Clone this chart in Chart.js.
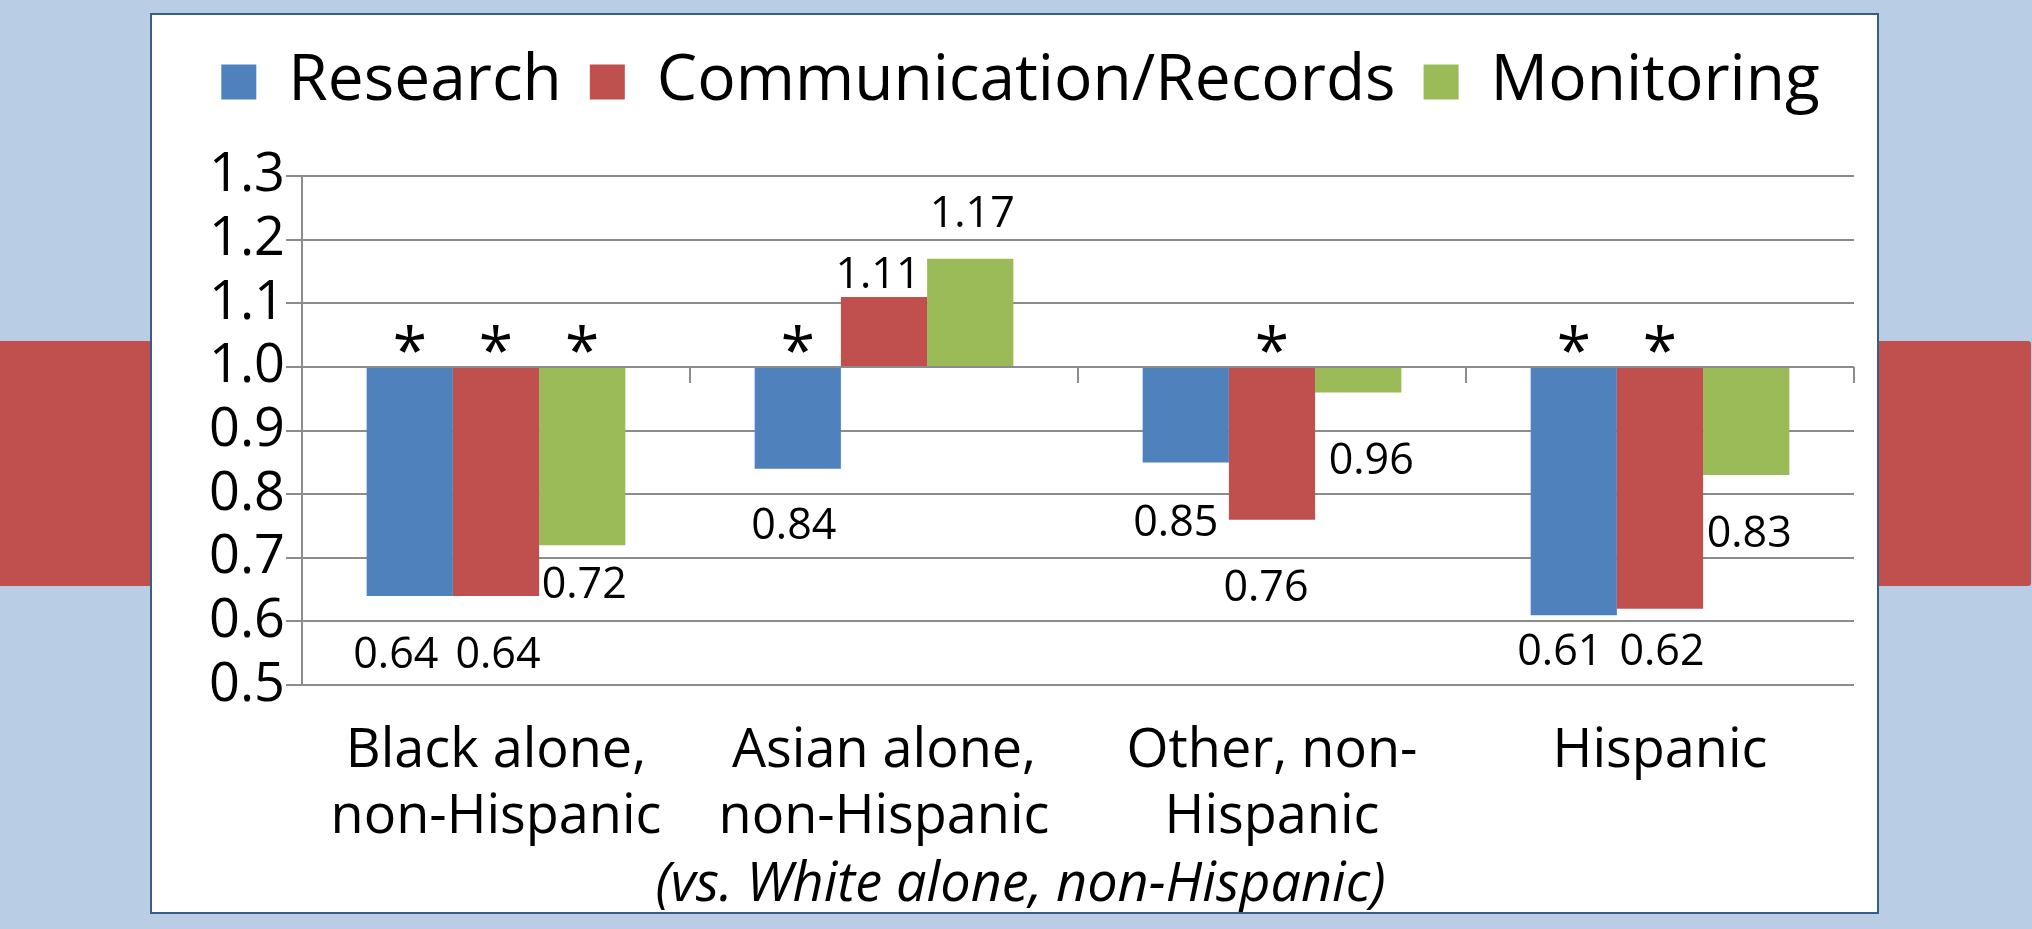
<!DOCTYPE html>
<html>
<head>
<meta charset="utf-8">
<script src="https://cdn.jsdelivr.net/npm/chart.js@4.4.1/dist/chart.umd.min.js"></script>
<style>
  html, body { margin: 0; padding: 0; }
  body { width: 2032px; height: 929px; background: #b9cde5; position: relative; overflow: hidden; }
  .band { position: absolute; top: 341px; height: 245px; background: #c0504d; }
  #bandLeft { left: 0; width: 160px; }
  #bandRight { left: 1870px; width: 161px; border-radius: 0 3px 3px 0; }
  #panel { position: absolute; left: 150px; top: 13px; width: 1725px; height: 897px;
           border: 2px solid #385d8a; background: #fff; }
  canvas { display: block; }
</style>
</head>
<body>
<div class="band" id="bandLeft"></div>
<div class="band" id="bandRight"></div>
<div id="panel"><canvas id="chart" width="1725" height="897"></canvas></div>
<script>
// Odds ratios by group (reference group: White alone, non-Hispanic)
const categories = [
  ['Black alone,', 'non-Hispanic'],
  ['Asian alone,', 'non-Hispanic'],
  ['Other, non-', 'Hispanic'],
  ['Hispanic']
];
const seriesNames = ['Research', 'Communication/Records', 'Monitoring'];
const research      = [0.64, 0.84, 0.85, 0.61];
const communication = [0.64, 1.11, 0.76, 0.62];
const monitoring    = [0.72, 1.17, 0.96, 0.83];

// statistically significant differences, marked with an asterisk
const researchSig      = [true, true, false, true];
const communicationSig = [true, false, true, true];
const monitoringSig    = [true, false, false, false];

const baseline = 1.0;
const yMin = 0.5, yMax = 1.3, yStep = 0.1;
const subtitle = '(vs. White alone, non-Hispanic)';

// value-label placement: centre offset [dx, dy] in px from each bar tip
const researchLabelShift      = [[-14, 56], [-4, 54], [-10, 58], [-14, 34]];
const communicationLabelShift = [[2, 56], [-6, -24], [-6, 65], [2, 40]];
const monitoringLabelShift    = [[2, 37], [2, -47], [13, 66], [3, 56]];

const FONT = "'Open Sans', 'Noto Sans', sans-serif";
const GRID = '#8c8c8c';
const COLORS = ['#4f81bd', '#c0504d', '#9bbb59'];

// leaves room between the legend row and the plot
const legendGap = {
  id: 'legendGap',
  beforeLayout(chart) {
    const lg = chart.legend;
    if (!lg || lg._gapPatched) return;
    const fit = lg.fit;
    lg.fit = function () { fit.call(this); this.height += 52; };
    lg._gapPatched = true;
  }
};

function drawCentred(ctx, text, cx, cy) {
  const m = ctx.measureText(text);
  const by = cy + (m.actualBoundingBoxAscent - m.actualBoundingBoxDescent) / 2;
  ctx.fillText(text, cx, by);
}

// category tick marks on the 1.0 line, value labels and significance stars
const annotate = {
  id: 'annotate',
  beforeDatasetsDraw(chart) {
    const { ctx, scales: { x, y } } = chart;
    const y1 = Math.round(y.getPixelForValue(baseline));
    ctx.save();
    ctx.strokeStyle = GRID;
    ctx.lineWidth = 2;
    for (let i = 0; i <= categories.length; i++) {
      const px = Math.round(x.getPixelForValue(i - 0.5));
      ctx.beginPath();
      ctx.moveTo(px, y1);
      ctx.lineTo(px, y1 + 16);
      ctx.stroke();
    }
    ctx.restore();
  },
  afterDatasetsDraw(chart) {
    const { ctx, scales: { y } } = chart;
    const y1 = y.getPixelForValue(baseline);
    ctx.save();
    ctx.fillStyle = '#000';
    ctx.textAlign = 'center';
    ctx.textBaseline = 'alphabetic';

    // star glyph scaled to ~28px tall
    ctx.font = `100px ${FONT}`;
    const sm = ctx.measureText('*');
    const starSize = 100 * 28 / (sm.actualBoundingBoxAscent + sm.actualBoundingBoxDescent);

    chart.data.datasets.forEach((ds, di) => {
      const meta = chart.getDatasetMeta(di);
      meta.data.forEach((bar, i) => {
        const v = ds.data[i];
        const [dx, dy] = ds.labelShift[i];
        ctx.font = `43px ${FONT}`;
        drawCentred(ctx, v.toFixed(2), bar.x + dx, bar.y + dy);
        if (ds.significant[i]) {
          ctx.font = `${starSize}px ${FONT}`;
          const m = ctx.measureText('*');
          const bottom = y1 - 14;
          ctx.fillText('*', bar.x, bottom - m.actualBoundingBoxDescent);
        }
      });
    });
    ctx.restore();
  }
};

const seriesValues = [research, communication, monitoring];
const seriesSig = [researchSig, communicationSig, monitoringSig];
const seriesShift = [researchLabelShift, communicationLabelShift, monitoringLabelShift];

new Chart(document.getElementById('chart'), {
  type: 'bar',
  data: {
    labels: categories,
    datasets: seriesNames.map((name, k) => ({
      label: name,
      data: seriesValues[k],
      base: baseline,
      backgroundColor: COLORS[k],
      borderWidth: 0,
      categoryPercentage: 2 / 3,
      barPercentage: 1,
      significant: seriesSig[k],
      labelShift: seriesShift[k]
    }))
  },
  options: {
    responsive: false,
    animation: false,
    devicePixelRatio: 1,
    layout: { padding: { left: 35, right: 23, top: 7, bottom: 0 } },
    scales: {
      x: {
        grid: { display: false, drawTicks: false },
        border: { display: false },
        ticks: {
          color: '#000',
          font: { family: FONT, size: 54, lineHeight: 1.22 },
          padding: 34,
          maxRotation: 0,
          autoSkip: false
        }
      },
      y: {
        min: yMin,
        max: yMax,
        afterFit(scale) { scale.width = 115; },
        ticks: {
          stepSize: yStep,
          autoSkip: false,
          color: '#000',
          font: { family: FONT, size: 54 },
          padding: 1,
          callback: v => Number(v).toFixed(1)
        },
        grid: { color: GRID, lineWidth: 2, tickLength: 16, tickColor: GRID },
        border: { display: true, color: GRID, width: 2 }
      }
    },
    plugins: {
      legend: {
        position: 'top',
        labels: {
          color: '#000',
          font: { family: FONT, size: 64 },
          boxWidth: 35,
          boxHeight: 35,
          padding: 28
        }
      },
      title: {
        display: true,
        position: 'bottom',
        text: subtitle,
        color: '#000',
        font: { family: FONT, size: 54, style: 'italic', weight: 'normal', lineHeight: 1.15 },
        padding: { top: -30, bottom: -5 }
      },
      tooltip: { enabled: false }
    }
  },
  plugins: [legendGap, annotate]
});
</script>
</body>
</html>
